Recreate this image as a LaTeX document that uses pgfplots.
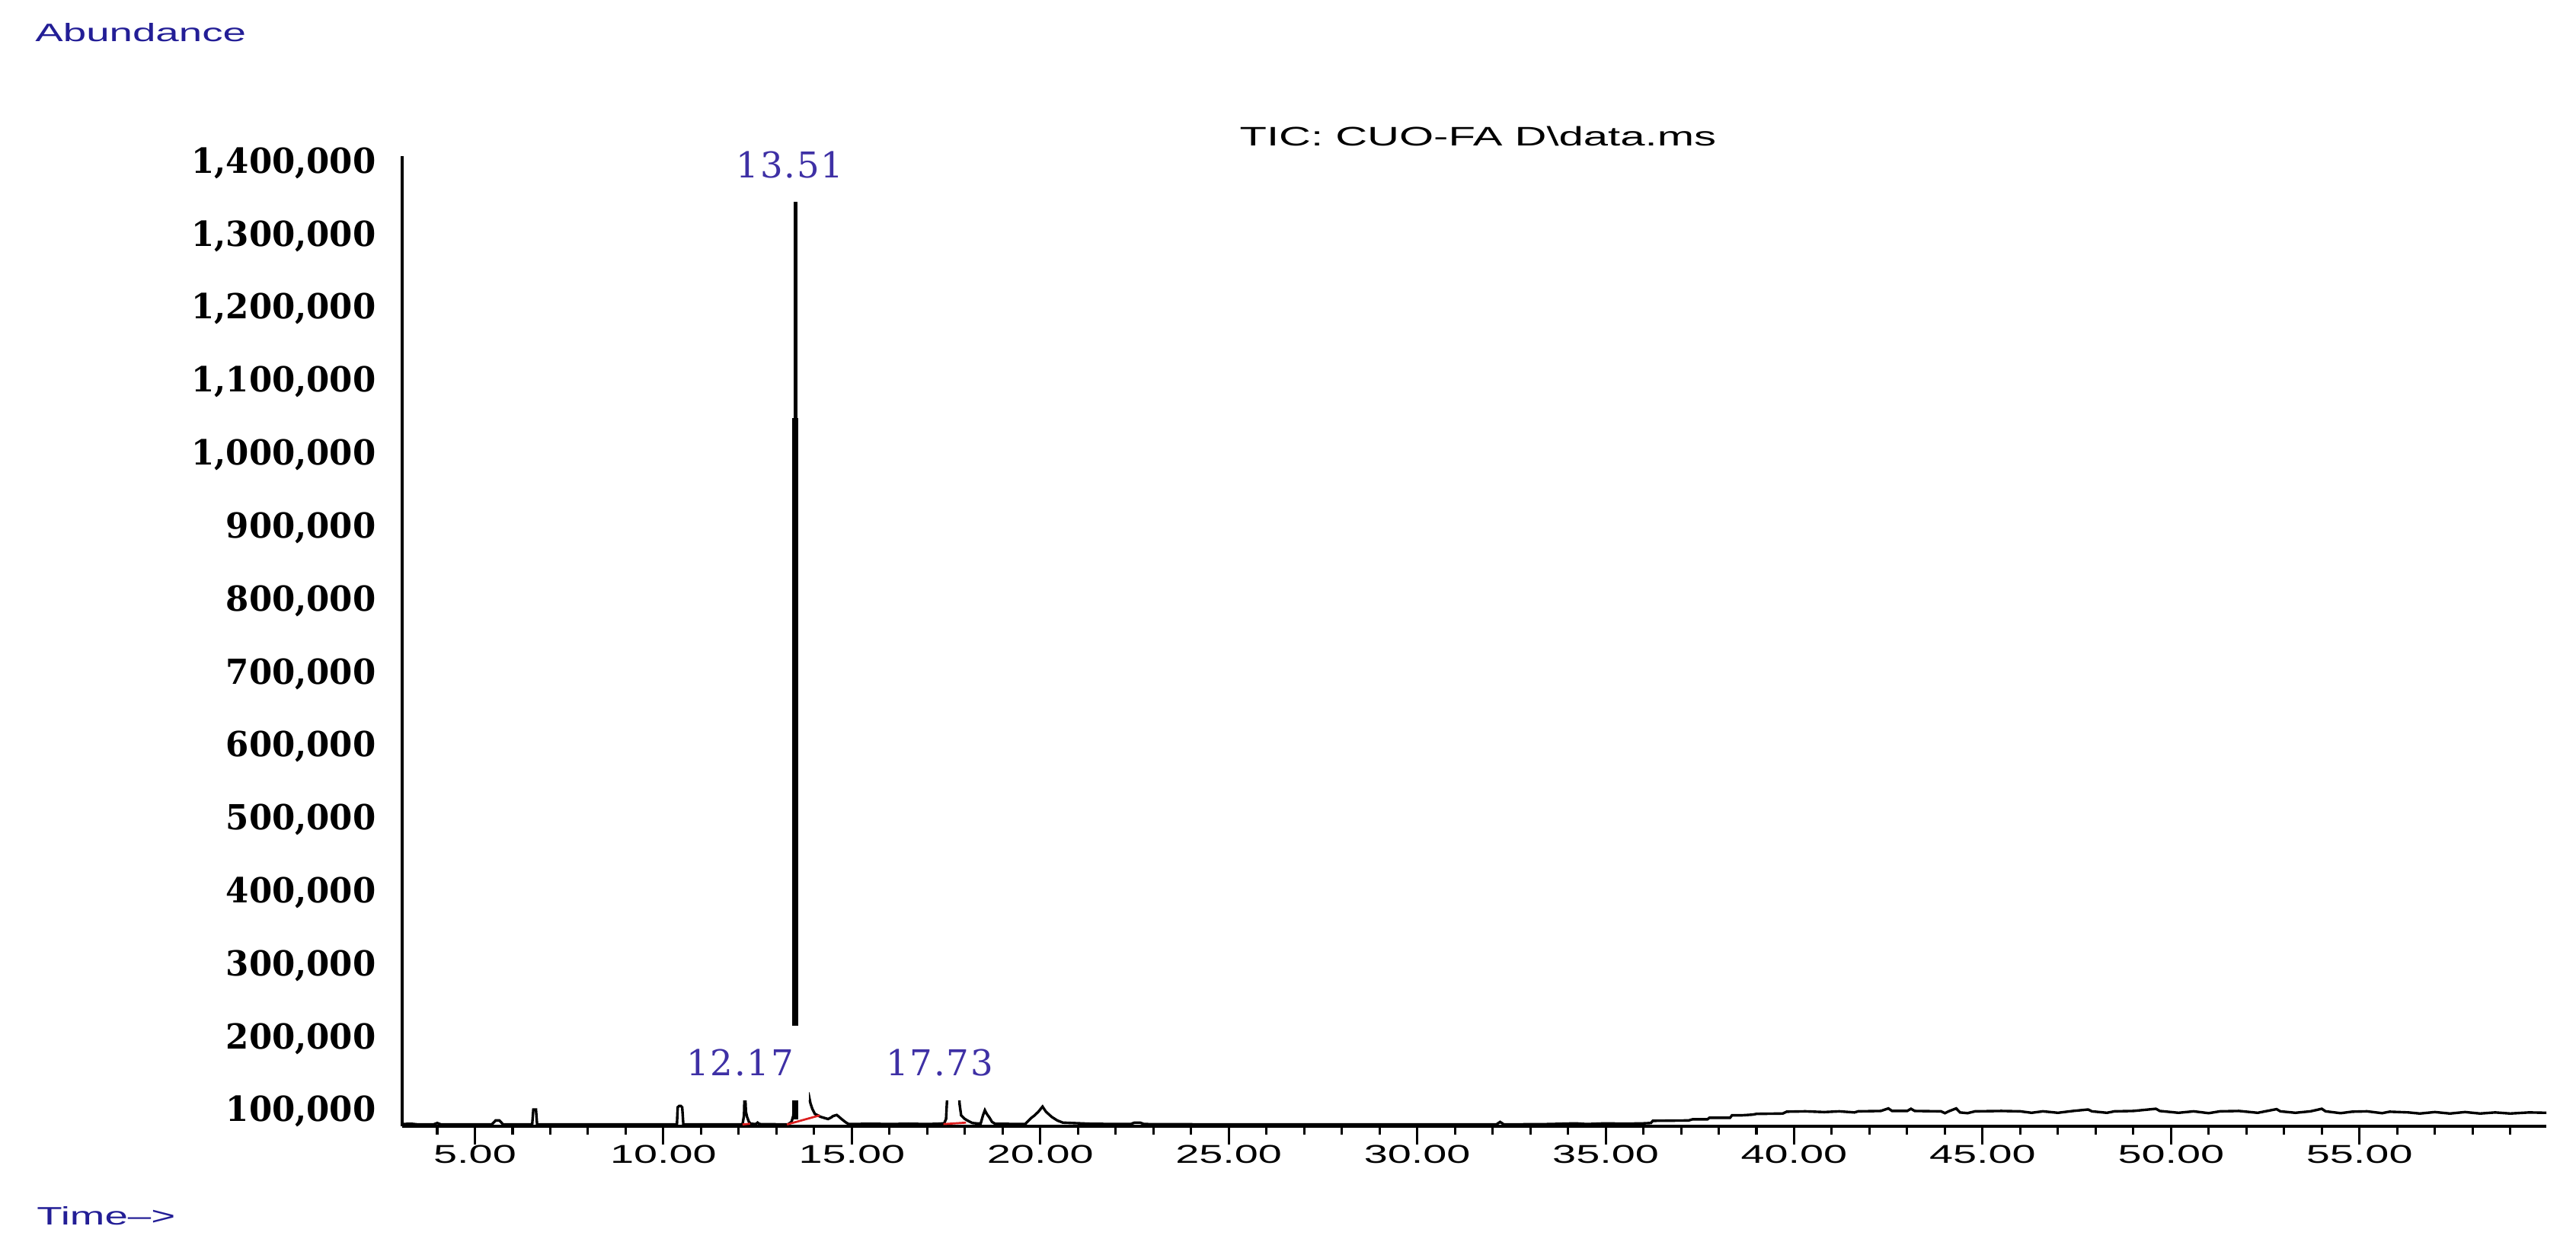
\documentclass[border=0pt]{standalone}
\usepackage{fontspec}
\usepackage{pgfplots}
\pgfplotsset{compat=1.18}
\setmainfont{Liberation Sans}
\newfontfamily\chemfont[FakeStretch=1.65]{Liberation Sans}
\newfontfamily\yfont[FakeStretch=0.96]{DejaVu Serif}
\newfontfamily\peakfont[LetterSpace=4]{DejaVu Serif}
\definecolor{chemblue}{RGB}{35,30,150}
\definecolor{peakblue}{RGB}{62,48,165}
\definecolor{intred}{RGB}{220,30,30}

\begin{document}
\begin{tikzpicture}
\path[use as bounding box] (-78.06pt,-25.43pt) rectangle (421.94pt,218.66pt);
\begin{axis}[
  scale only axis, width=416.2pt, height=188.4pt,
  xmin=3.07, xmax=59.96, ymin=80000, ymax=1410000,
  axis x line*=bottom, axis y line*=left,
  axis line style={line width=0.5pt, black},
  clip=false,
  xtick={5,10,...,55},
  xticklabels={5.00,10.00,15.00,20.00,25.00,30.00,35.00,40.00,45.00,50.00,55.00},
  minor xtick={4,5,...,59},
  tick align=outside,
  major tick length=3.5pt, minor tick length=1.6pt,
  x tick style={line width=0.45pt, black},
  xticklabel style={font=\chemfont\fontsize{5pt}{6pt}\selectfont, anchor=north, inner sep=0pt},
  ytick={100000,200000,...,1400000},
  yticklabels={{100,000},{200,000},{300,000},{400,000},{500,000},{600,000},{700,000},
    {800,000},{900,000},{1,000,000},{1,100,000},{1,200,000},{1,300,000},{1,400,000}},
  y tick style={draw=none},
  yticklabel style={font=\yfont\bfseries\fontsize{6.7pt}{7pt}\selectfont, anchor=east, inner sep=0pt, xshift=-1.4pt},
  scaled y ticks=false,
]
% total ion chromatogram
\addplot[black, line width=0.5pt] coordinates {
(3.07,83000)(3.3,83500)(3.5,82500)(3.9,82500)(4.0,84500)(4.1,82500)
(5.45,82500)(5.55,88000)(5.65,88000)(5.75,82500)
(6.52,82500)(6.55,103000)(6.62,103000)(6.65,82500)
(8.0,82500)(10.36,82500)(10.38,106000)(10.42,108000)(10.46,108000)(10.50,106000)(10.53,82500)
(12.10,82500)(12.14,95000)(12.16,135000)(12.19,100000)(12.22,93000)(12.27,86000)(12.32,83500)
(12.45,83000)(12.5,85000)(12.55,83000)
(13.3,82500)(13.40,86000)(13.45,95000)(13.47,150000)(13.50,1360000)(13.53,160000)
(13.65,125000)(13.78,130000)(13.85,125000)(13.9,112000)(13.95,104000)(14.02,97000)
(14.17,93000)(14.3,91000)(14.37,90000)(14.45,92000)(14.5,94000)(14.6,95500)(14.66,93000)
(14.75,89000)(14.85,85000)(14.92,83000)
(15.0,83000)(15.5,83500)(16.0,83000)(16.5,83500)(17.0,83000)(17.3,83500)
(17.45,84000)(17.50,90000)(17.52,110000)(17.55,140000)(17.65,140000)(17.70,135000)
(17.75,140000)(17.83,140000)(17.86,110000)(17.9,95000)(18.0,90000)(18.1,87000)
(18.2,84500)(18.3,84000)
(18.42,84000)(18.48,95000)(18.53,102000)(18.58,97000)(18.65,92000)(18.72,86000)(18.8,83500)
(19.5,83000)(19.6,83000)(19.75,91000)(19.85,95000)(19.95,100000)(20.06,107000)(20.15,100000)
(20.3,93000)(20.45,88000)(20.6,85000)(21.3,83500)(22.0,83000)(22.4,83000)(22.5,85000)
(22.65,85000)(22.75,83000)
(25,82500)(30,82500)(32.1,82500)(32.2,86000)(32.3,82500)
(33.5,83000)(34.2,84000)(34.5,83000)(35.0,84000)(35.5,83500)(36.0,84000)(36.2,84500)
(36.25,87500)(37.2,88000)(37.3,89500)(37.7,89600)(37.75,91600)(38.3,91600)(38.35,95000)
(38.6,95000)(38.9,96000)(39.0,97000)(39.7,97500)(39.8,100000)
(40.3,100500)(40.8,99500)(41.2,100500)(41.6,99000)(41.7,100500)(42.3,101000)(42.5,104500)
(42.6,101000)(43.0,101000)(43.1,104000)(43.2,101000)(43.9,100500)(44.0,98000)(44.1,100500)
(44.3,104500)(44.4,99000)(44.6,98000)(44.8,100500)(45.5,101000)(46.0,100500)(46.3,98500)
(46.6,100500)(47.0,98500)(47.4,101000)(47.8,103000)(47.9,100500)(48.3,98500)(48.5,100500)
(49.0,101000)(49.6,104000)(49.7,101000)(50.2,98500)(50.6,100500)(51.0,98000)(51.3,100500)
(51.8,101000)(52.3,98500)(52.8,103500)(52.9,100500)(53.3,98500)(53.7,100500)(54.0,104000)
(54.1,100500)(54.5,98000)(54.8,100000)(55.2,100500)(55.6,98000)(55.8,100000)(56.3,99000)
(56.6,97500)(57.0,99500)(57.4,97500)(57.8,99500)(58.2,97500)(58.6,99000)(59.0,97500)
(59.5,99000)(59.96,98500)
};
% body of the 13.51 peak
\addplot[black, fill=black, line width=0.3pt] coordinates {
(13.44,90000)(13.44,1050000)(13.47,1050000)(13.47,1360000)(13.53,1360000)
(13.53,1050000)(13.56,1050000)(13.56,90000)} -- cycle;
% integration baselines
\addplot[intred, line width=0.4pt] coordinates {(12.10,82500)(12.30,83500)};
\addplot[intred, line width=0.4pt] coordinates {(13.28,82500)(14.15,95000)};
\addplot[intred, line width=0.4pt] coordinates {(17.43,83000)(18.03,85000)};
% peak labels
\begin{scope}[every node/.style={fill=white, inner xsep=3pt, inner ysep=4.6pt,
    text=peakblue, font=\peakfont\fontsize{6.9pt}{7pt}\selectfont}]
\node at (axis cs:13.36,1398000) {13.51};
\node at (axis cs:12.035,166800) {12.17};
\node at (axis cs:17.33,166800) {17.73};
\end{scope}
\end{axis}
\node[anchor=west, inner sep=0pt, text=chemblue, font=\chemfont\fontsize{4.9pt}{6pt}\selectfont] at (-71.4pt,212.3pt) {Abundance};
\node[anchor=west, inner sep=0pt, text=chemblue, font=\chemfont\fontsize{4.9pt}{6pt}\selectfont] at (-71.1pt,-17.4pt) {Time\textendash{}>};
\node[inner sep=0pt, font=\chemfont\fontsize{5.2pt}{6pt}\selectfont] at (208.8pt,192.2pt) {TIC: CUO-FA D\textbackslash{}data.ms};
\end{tikzpicture}
\end{document}
